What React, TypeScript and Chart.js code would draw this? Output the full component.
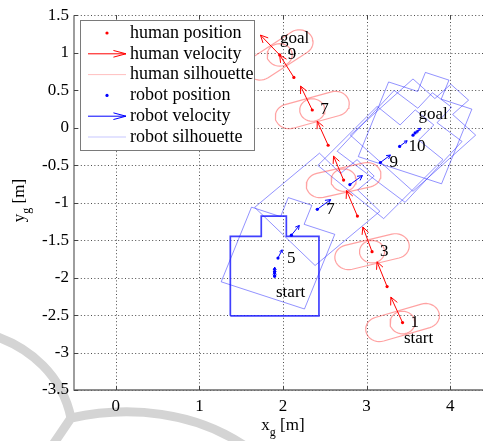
import { useEffect, useRef } from "react";
import { Chart, registerables } from "chart.js";

Chart.register(...registerables);

// ---- axes ----
const xTicks = [0, 1, 2, 3, 4];
const yTicks = [-3.5, -3, -2.5, -2, -1.5, -1, -0.5, 0, 0.5, 1, 1.5];

// ---- human track (m, m/step) ----
const humanX = [3.43, 3.245, 3.065, 2.89, 2.725, 2.54, 2.35, 2.13, 1.96];
const humanY = [-2.6, -2.12, -1.655, -1.18, -0.7, -0.235, 0.235, 0.67, 0.97];
const humanVx = [-0.14, -0.12, -0.11, -0.13, -0.12, -0.13, -0.14, -0.17, -0.23];
const humanVy = [0.34, 0.33, 0.33, 0.34, 0.32, 0.32, 0.32, 0.3, 0.265];
// steps (1-based) where the body outline is drawn, with shoulder-line angle (deg)
const humanBodySteps = [1, 3, 5, 7, 9];
const humanShoulderDeg = [18, 15, 14, 17, 36];
const humanStepLabels = [
  { step: 1, text: "1" },
  { step: 3, text: "3" },
  { step: 7, text: "7" },
  { step: 9, text: "9" },
];

// ---- robot track (m, m/step) ----
const robotX = [1.9, 1.9, 1.9, 1.9, 1.94, 2.1, 2.41, 2.8, 3.165, 3.395, 3.555, 3.58];
const robotY = [-1.98, -1.98, -1.92, -1.92, -1.74, -1.435, -1.09, -0.76, -0.465, -0.25, -0.1, -0.07];
const robotVx = [0, 0, 0, 0, 0.05, 0.095, 0.16, 0.15, 0.12, 0.09, 0.067, 0.067];
const robotVy = [0.057, 0.057, 0.057, 0.057, 0.11, 0.13, 0.13, 0.12, 0.1, 0.075, 0.062, 0.062];
// steps (1-based) where the robot footprint is drawn, with heading offset (deg)
const robotBodySteps = [1, 5, 7, 9, 10, 11, 12];
const robotHeadingDeg = [0, -20, -47, -42, -40, -45, -20];
const robotStepLabels = [
  { step: 5, text: "5" },
  { step: 7, text: "7" },
  { step: 9, text: "9" },
  { step: 10, text: "10" },
];

const legendNames = [
  "human position",
  "human velocity",
  "human silhouette",
  "robot position",
  "robot velocity",
  "robot silhouette",
];

// ---- styling ----
const SERIF = "'Liberation Serif', 'Times New Roman', serif";
const RED = "#ff0000";
const BLUE = "#0000ff";
const HUMAN_OUTLINE = "rgba(255, 70, 70, 0.5)";
const ROBOT_OUTLINE = "rgba(40, 40, 255, 0.5)";
const ROBOT_START_OUTLINE = "rgba(30, 30, 255, 0.85)";

// footprint of the robot in its own frame (forward = +v), metres
const FOOT_U = [-0.53, 0.53, 0.53, 0.14, 0.14, -0.16, -0.16, -0.53, -0.53];
const FOOT_V = [-0.53, -0.53, 0.53, 0.53, 0.8, 0.8, 0.53, 0.53, -0.53];
// human body: shoulder capsule + head circle, metres
const SHOULDER_HALF = 0.29;
const SHOULDER_R = 0.165;
const HEAD_R = 0.15;

const D2R = Math.PI / 180;

type Pt = { x: number; y: number };

function footprint(cx: number, cy: number, deg: number): Pt[] {
  const c = Math.cos(deg * D2R);
  const s = Math.sin(deg * D2R);
  return FOOT_U.map((u, i) => ({
    x: cx + u * c - FOOT_V[i] * s,
    y: cy + u * s + FOOT_V[i] * c,
  }));
}

function capsule(cx: number, cy: number, deg: number): Pt[] {
  const c = Math.cos(deg * D2R);
  const s = Math.sin(deg * D2R);
  const pts: Pt[] = [];
  const push = (u: number, v: number) =>
    pts.push({ x: cx + u * c - v * s, y: cy + u * s + v * c });
  for (let a = -90; a <= 90; a += 10) {
    push(SHOULDER_HALF + SHOULDER_R * Math.cos(a * D2R), SHOULDER_R * Math.sin(a * D2R));
  }
  for (let a = 90; a <= 270; a += 10) {
    push(-SHOULDER_HALF + SHOULDER_R * Math.cos(a * D2R), SHOULDER_R * Math.sin(a * D2R));
  }
  pts.push(pts[0]);
  return pts;
}

function circle(cx: number, cy: number, r: number): Pt[] {
  const pts: Pt[] = [];
  for (let a = 0; a <= 360; a += 10) {
    pts.push({ x: cx + r * Math.cos(a * D2R), y: cy + r * Math.sin(a * D2R) });
  }
  return pts;
}

function drawArrow(
  ctx: CanvasRenderingContext2D,
  x0: number,
  y0: number,
  x1: number,
  y1: number,
  head: number,
  spread: number
) {
  const a = Math.atan2(y1 - y0, x1 - x0);
  ctx.beginPath();
  ctx.moveTo(x0, y0);
  ctx.lineTo(x1, y1);
  ctx.moveTo(x1 - head * Math.cos(a - spread), y1 - head * Math.sin(a - spread));
  ctx.lineTo(x1, y1);
  ctx.lineTo(x1 - head * Math.cos(a + spread), y1 - head * Math.sin(a + spread));
  ctx.stroke();
}

const decorPlugin = {
  id: "trajectoryDecor",
  beforeDraw(chart: any) {
    // faint publisher mark behind the figure
    const ctx: CanvasRenderingContext2D = chart.ctx;
    ctx.save();
    ctx.strokeStyle = "#d4d4d4";
    ctx.lineWidth = 9;
    ctx.lineCap = "round";
    ctx.beginPath();
    ctx.moveTo(-5, 336);
    ctx.bezierCurveTo(30, 348, 62, 375, 71, 418);
    ctx.moveTo(71, 418);
    ctx.bezierCurveTo(130, 405, 195, 412, 245, 446);
    ctx.moveTo(71, 418);
    ctx.lineTo(52, 446);
    ctx.stroke();
    ctx.restore();
  },
  beforeDatasetsDraw(chart: any) {
    const { ctx, chartArea: ca, scales } = chart;
    const xs = scales.x;
    const ys = scales.y;
    ctx.save();
    // dotted grid
    ctx.strokeStyle = "rgba(0,0,0,0.7)";
    ctx.lineWidth = 1;
    ctx.setLineDash([1, 2.4]);
    xTicks.forEach((v) => {
      const px = Math.round(xs.getPixelForValue(v)) + 0.5;
      ctx.beginPath();
      ctx.moveTo(px, ca.top);
      ctx.lineTo(px, ca.bottom);
      ctx.stroke();
    });
    yTicks.forEach((v) => {
      const py = Math.round(ys.getPixelForValue(v)) + 0.5;
      ctx.beginPath();
      ctx.moveTo(ca.left, py);
      ctx.lineTo(ca.right, py);
      ctx.stroke();
    });
    ctx.setLineDash([]);
    // axes and inward ticks
    ctx.strokeStyle = "#6a6a6a";
    ctx.lineWidth = 1.3;
    ctx.beginPath();
    ctx.moveTo(ca.left, ca.top);
    ctx.lineTo(ca.left, ca.bottom);
    ctx.lineTo(ca.right, ca.bottom);
    ctx.stroke();
    ctx.lineWidth = 1;
    ctx.strokeStyle = "#444";
    ctx.beginPath();
    xTicks.forEach((v) => {
      const px = Math.round(xs.getPixelForValue(v)) + 0.5;
      ctx.moveTo(px, ca.bottom);
      ctx.lineTo(px, ca.bottom - 4);
      ctx.moveTo(px, ca.top);
      ctx.lineTo(px, ca.top + 4);
    });
    yTicks.forEach((v) => {
      const py = Math.round(ys.getPixelForValue(v)) + 0.5;
      ctx.moveTo(ca.left, py);
      ctx.lineTo(ca.left + 4, py);
    });
    ctx.stroke();
    ctx.restore();
  },
  afterDatasetsDraw(chart: any) {
    const { ctx, scales } = chart;
    const X = (v: number) => scales.x.getPixelForValue(v);
    const Y = (v: number) => scales.y.getPixelForValue(v);
    ctx.save();
    ctx.lineWidth = 1;
    // velocity arrows
    ctx.strokeStyle = RED;
    humanX.forEach((hx, i) => {
      const x0 = X(hx), y0 = Y(humanY[i]);
      const x1 = X(hx + humanVx[i]), y1 = Y(humanY[i] + humanVy[i]);
      const len = Math.hypot(x1 - x0, y1 - y0);
      drawArrow(ctx, x0, y0, x1, y1, len * 0.3, 0.45);
    });
    ctx.strokeStyle = BLUE;
    robotX.forEach((rx, i) => {
      const x0 = X(rx), y0 = Y(robotY[i]);
      const x1 = X(rx + robotVx[i]), y1 = Y(robotY[i] + robotVy[i]);
      const len = Math.hypot(x1 - x0, y1 - y0);
      drawArrow(ctx, x0, y0, x1, y1, Math.max(3, len * 0.35), 0.5);
    });
    // step annotations
    ctx.fillStyle = "#000";
    ctx.font = `17px ${SERIF}`;
    ctx.textBaseline = "middle";
    ctx.textAlign = "left";
    humanStepLabels.forEach((l) => {
      ctx.fillText(l.text, X(humanX[l.step - 1]) + 8, Y(humanY[l.step - 1]));
    });
    robotStepLabels.forEach((l) => {
      ctx.fillText(l.text, X(robotX[l.step - 1]) + 9, Y(robotY[l.step - 1]));
    });
    ctx.textAlign = "center";
    ctx.fillText("start", X(humanX[0]) + 16, Y(humanY[0]) + 16);
    ctx.fillText("start", X(robotX[0]) + 16, Y(robotY[0]) + 16);
    const hl = humanX.length - 1;
    const rl = robotX.length - 1;
    ctx.fillText("goal", X(humanX[hl]) + 15, Y(humanY[hl]) - 16);
    ctx.fillText("goal", X(robotX[rl]) + 18, Y(robotY[rl]) - 18);
    ctx.restore();
  },
  afterDraw(chart: any) {
    const { ctx, chartArea: ca } = chart;
    ctx.save();
    // axis titles
    ctx.fillStyle = "#000";
    ctx.textBaseline = "alphabetic";
    ctx.textAlign = "left";
    const big = `17px ${SERIF}`;
    const small = `12px ${SERIF}`;
    const drawTitle = (main: string, sub: string, rest: string, cx: number, base: number) => {
      ctx.font = big;
      const w1 = ctx.measureText(main).width;
      const w3 = ctx.measureText(rest).width;
      ctx.font = small;
      const w2 = ctx.measureText(sub).width;
      let x = cx - (w1 + w2 + w3) / 2;
      ctx.font = big;
      ctx.fillText(main, x, base);
      x += w1;
      ctx.font = small;
      ctx.fillText(sub, x, base + 6);
      x += w2;
      ctx.font = big;
      ctx.fillText(rest, x, base);
    };
    drawTitle("x", "g", " [m]", (ca.left + ca.right) / 2, 430);
    ctx.save();
    ctx.translate(24, (ca.top + ca.bottom) / 2 - 2);
    ctx.rotate(-Math.PI / 2);
    drawTitle("y", "g", " [m]", 0, 0);
    ctx.restore();

    // legend box
    const lx = 80.5, ly = 20.5, lw = 174, lh = 130;
    ctx.fillStyle = "#fff";
    ctx.fillRect(lx, ly, lw, lh);
    ctx.strokeStyle = "#7a7a7a";
    ctx.lineWidth = 1;
    ctx.strokeRect(lx, ly, lw, lh);
    const kinds = ["dot", "arrow", "line", "dot", "arrow", "line"];
    const colors = [RED, RED, "rgba(255,0,0,0.25)", BLUE, BLUE, "rgba(0,0,255,0.22)"];
    legendNames.forEach((name, i) => {
      const y = ly + 12.5 + i * 20.8;
      ctx.strokeStyle = colors[i];
      ctx.fillStyle = colors[i];
      if (kinds[i] === "dot") {
        ctx.beginPath();
        ctx.arc(107, y, 1.6, 0, Math.PI * 2);
        ctx.fill();
      } else if (kinds[i] === "arrow") {
        drawArrow(ctx, 88, y, 126, y, 13, 0.26);
      } else {
        ctx.beginPath();
        ctx.moveTo(88, y);
        ctx.lineTo(126, y);
        ctx.stroke();
      }
      ctx.fillStyle = "#000";
      ctx.font = `18px ${SERIF}`;
      ctx.textBaseline = "middle";
      ctx.fillText(name, 130, y);
    });
    ctx.restore();
  },
};

export default function App() {
  const canvasRef = useRef<HTMLCanvasElement | null>(null);

  useEffect(() => {
    if (!canvasRef.current) return;

    const outline = (pts: Pt[], color: string, width = 1) => ({
      data: pts,
      showLine: true,
      borderColor: color,
      borderWidth: width,
      pointRadius: 0,
      fill: false,
      tension: 0,
    });

    const datasets: any[] = [
      {
        data: humanX.map((x, i) => ({ x, y: humanY[i] })),
        backgroundColor: RED,
        borderColor: RED,
        pointRadius: 1.6,
        borderWidth: 0,
      },
      {
        data: robotX.map((x, i) => ({ x, y: robotY[i] })),
        backgroundColor: BLUE,
        borderColor: BLUE,
        pointRadius: 1.6,
        borderWidth: 0,
      },
    ];

    humanBodySteps.forEach((step, k) => {
      const hx = humanX[step - 1];
      const hy = humanY[step - 1];
      datasets.push(outline(capsule(hx, hy, humanShoulderDeg[k]), HUMAN_OUTLINE, 1.2));
      datasets.push(outline(circle(hx, hy, HEAD_R), HUMAN_OUTLINE, 1.2));
    });

    robotBodySteps.forEach((step, k) => {
      const first = k === 0;
      datasets.push(
        outline(
          footprint(robotX[step - 1], robotY[step - 1], robotHeadingDeg[k]),
          first ? ROBOT_START_OUTLINE : ROBOT_OUTLINE,
          first ? 1.7 : 1
        )
      );
    });

    const chart = new Chart(canvasRef.current, {
      type: "scatter",
      data: { datasets },
      plugins: [decorPlugin],
      options: {
        responsive: false,
        animation: false,
        devicePixelRatio: 1,
        events: [],
        layout: { padding: { left: 0, right: 8, top: 12, bottom: 0 } },
        plugins: { legend: { display: false }, tooltip: { enabled: false } },
        scales: {
          x: {
            type: "linear",
            min: -0.5,
            max: 4.5,
            afterBuildTicks: (s: any) => {
              s.ticks = xTicks.map((v) => ({ value: v }));
            },
            afterFit: (s: any) => {
              s.height = 51;
            },
            grid: { display: false, drawTicks: false },
            border: { display: false },
            ticks: {
              font: { family: SERIF, size: 17 },
              color: "#000",
              padding: 6,
              maxRotation: 0,
              autoSkip: false,
              callback: (v: any) => String(v),
            },
          },
          y: {
            type: "linear",
            min: -3.5,
            max: 1.5,
            afterBuildTicks: (s: any) => {
              s.ticks = yTicks.map((v) => ({ value: v }));
            },
            afterFit: (s: any) => {
              s.width = 74;
            },
            grid: { display: false, drawTicks: false },
            border: { display: false },
            ticks: {
              font: { family: SERIF, size: 17 },
              color: "#000",
              padding: 5,
              autoSkip: false,
              callback: (v: any) => String(v),
            },
          },
        },
      } as any,
    });

    return () => chart.destroy();
  }, []);

  return (
    <div
      style={{
        position: "absolute",
        left: 0,
        top: 0,
        width: 483,
        height: 441,
        overflow: "hidden",
        background: "#fff",
      }}
    >
      <canvas ref={canvasRef} width={500} height={441} style={{ display: "block" }} />
    </div>
  );
}
